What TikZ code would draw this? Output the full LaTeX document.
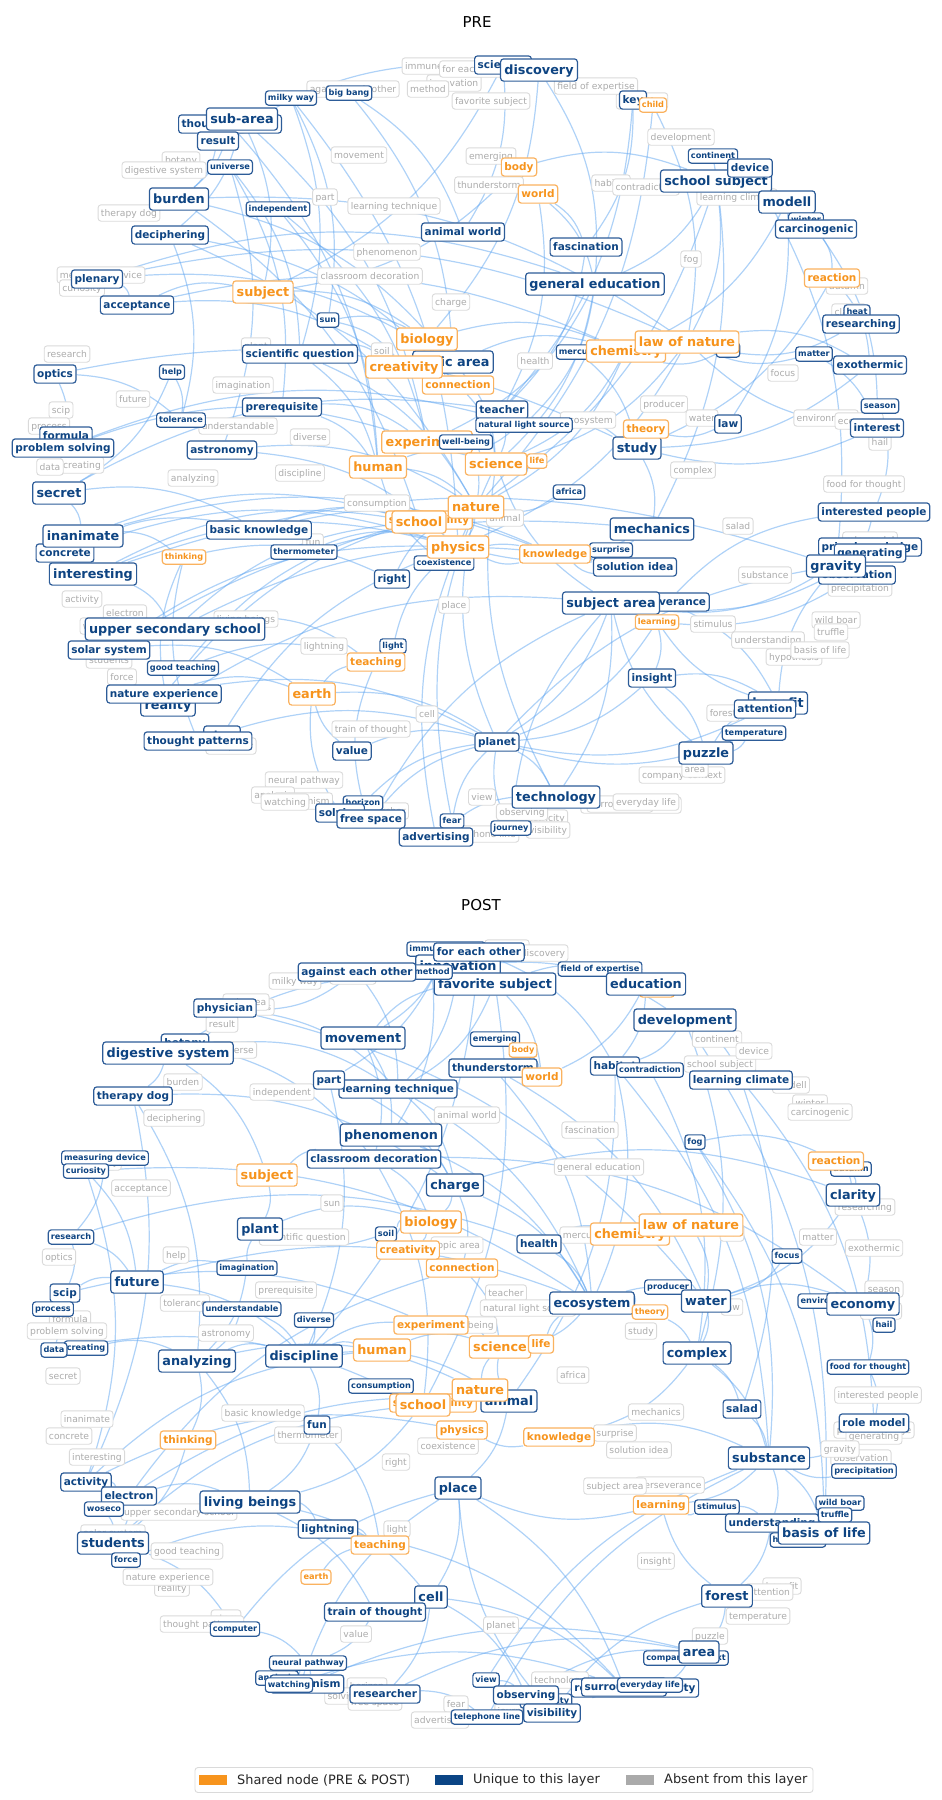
\documentclass[tikz,border=0pt]{standalone}
\usepackage{fontspec}
\setmainfont{DejaVu Sans}
\pgfdeclarelayer{background}
\pgfsetlayers{background,main}

\definecolor{uniqtext}{RGB}{14,68,130}
\definecolor{uniqline}{RGB}{45,92,152}
\definecolor{bothtext}{RGB}{247,148,29}
\definecolor{bothline}{RGB}{250,178,95}
\definecolor{gonetext}{RGB}{172,172,172}
\definecolor{goneline}{RGB}{218,218,218}
\definecolor{linkblue}{RGB}{95,165,240}
\definecolor{swatchblue}{RGB}{11,69,133}
\definecolor{swatchgray}{RGB}{170,170,170}

% nodes only in PRE: key/x/y/label/size
\def\onlypre{%
bbg/349/93/big bang/szs,
mil/291/98/milky way/szs,
thp/230/124/thought process/szm,
sub/242/119/sub-area/szl,
res/218/141/result/szm,
uni/230/167/universe/szs,
bur/179/199/burden/szl,
ind/278/209/independent/szs,
dec/170/235/deciphering/szm,
anw/463/232/animal world/szm,
ple/97/279/plenary/szm,
acc/137/305/acceptance/szm,
sun/328/320/sun/szs,
sci/503/65/scientist/szm,
dis/539/70/discovery/szl,
key/633/100/key/szm,
con/713/156/continent/szs,
ssu/716/181/school subject/szl,
dvc/750/168/device/szm,
mod/787/202/modell/szl,
win/806/220/winter/szs,
car/816/229/carcinogenic/szm,
fas/586/247/fascination/szm,
gen/595/284/general education/szl,
hea/857/312/heat/szs,
rsg/861/324/researching/szm,
opt/55/374/optics/szm,
hlp/172/372/help/szs,
sq/300/354/scientific question/szm,
top/453/362/topic area/szl,
pre/282/407/prerequisite/szm,
tol/181/420/tolerance/szs,
for/66/436/formula/szm,
pso/63/448/problem solving/szm,
ast/222/450/astronomy/szm,
sec/59/493/secret/szl,
bkn/259/530/basic knowledge/szm,
thm/304/552/thermometer/szs,
cnc/65/553/concrete/szm,
ina/83/536/inanimate/szl,
int/93/574/interesting/szl,
coe/444/563/coexistence/szs,
rig/392/579/right/szm,
mer/578/352/mercury/szs,
sta/728/350/star/szs,
mat/814/354/matter/szs,
exo/870/365/exothermic/szm,
tea/502/410/teacher/szm,
nls/524/425/natural light source/szs,
law/728/424/law/szm,
stu/637/448/study/szl,
sea/880/406/season/szs,
ite/877/428/interest/szm,
afr/569/492/africa/szs,
mec/652/529/mechanics/szl,
ipe/874/512/interested people/szm,
sur/611/550/surprise/szs,
sid/635/567/solution idea/szm,
pkn/870/547/prior knowledge/szm,
gnr/870/553/generating/szm,
obs/857/575/observation/szm,
gra/836/566/gravity/szl,
per/666/602/perseverance/szm,
sar/611/603/subject area/szl,
usc/175/629/upper secondary school/szl,
sol/109/650/solar system/szm,
lgt/393/646/light/szs,
gte/183/668/good teaching/szs,
rel/168/705/reality/szl,
nex/164/694/nature experience/szm,
ato/222/735/atom/szm,
tpa/198/741/thought patterns/szm,
val/352/751/value/szm,
hor/363/803/horizon/szs,
slv/340/813/solving/szm,
fsp/371/819/free space/szm,
fer/452/821/fear/szs,
adv/436/837/advertising/szm,
ins/652/678/insight/szm,
ben/778/703/benefit/szl,
att/765/709/attention/szm,
tmp/754/733/temperature/szs,
pln/497/742/planet/szm,
puz/706/753/puzzle/szl,
tec/556/797/technology/szl,
jou/511/828/journey/szs}

% nodes only in POST: key/x/y/label/size
\def\onlypost{%
imm/442/66/immune system/szs,
inn/454/83/innovation/szl,
fea/475/69/for each other/szm,
fav/491/101/favorite subject/szl,
met/428/89/method/szs,
aeo/353/89/against each other/szm,
phy/221/125/physician/szm,
bot/181/160/botany/szm,
dig/164/170/digestive system/szl,
mov/359/155/movement/szl,
eme/491/156/emerging/szs,
thd/129/213/therapy dog/szm,
ltq/394/206/learning technique/szm,
par/325/197/part/szm,
phe/387/252/phenomenon/szl,
cld/370/276/classroom decoration/szm,
mdv/101/275/measuring device/szs,
cur/82/288/curiosity/szs,
cha/451/302/charge/szl,
foe/596/86/field of expertise/szs,
dev/681/137/development/szl,
thu/489/185/thunderstorm/szm,
hab/611/183/habitat/szm,
ctr/646/187/contradiction/szs,
lcl/737/197/learning climate/szm,
fog/691/259/fog/szs,
aut/847/286/autumn/szs,
cla/849/312/clarity/szl,
rsh/67/354/research/szs,
soi/382/351/soil/szs,
pnt/256/346/plant/szl,
ima/243/385/imagination/szs,
fut/133/399/future/szl,
scp/61/410/scip/szm,
pro/49/426/process/szs,
und/238/426/understandable/szs,
div/310/437/diverse/szs,
crt/82/465/creating/szs,
dat/50/467/data/szs,
ana/193/478/analyzing/szl,
dsc/300/473/discipline/szl,
cns/377/503/consumption/szs,
fun/313/542/fun/szm,
act/82/599/activity/szm,
hlt/535/361/health/szm,
foc/783/373/focus/szs,
eco/588/420/ecosystem/szl,
prd/664/404/producer/szs,
wat/702/418/water/szl,
cpx/693/470/complex/szl,
env/826/418/environment/szs,
ecn/859/421/economy/szl,
hai/880/442/hail/szs,
ani/505/518/animal/szl,
fft/864/484/food for thought/szs,
sal/738/526/salad/szm,
rmo/870/540/role model/szm,
prc/860/588/precipitation/szs,
sst/765/575/substance/szl,
ele/125/613/electron/szm,
wos/100/626/woseco/szs,
lbe/246/619/living beings/szl,
pla/454/605/place/szl,
sts/109/660/students/szl,
lig/324/646/lightning/szm,
frc/122/677/force/szs,
cel/427/714/cell/szl,
tot/371/729/train of thought/szm,
cmp/231/746/computer/szs,
npw/304/780/neural pathway/szs,
anl/273/795/analysis/szs,
mcm/303/801/mechanism/szm,
wch/285/802/watching/szs,
rsr/381/811/researcher/szm,
stm/713/624/stimulus/szs,
wbo/836/620/wild boar/szs,
tru/831/632/truffle/szs,
ust/768/640/understanding/szm,
hyp/794/657/hypothesis/szs,
bol/820/650/basis of life/szl,
frs/723/713/forest/szl,
cco/682/775/company context/szs,
are/695/769/area/szl,
vie/482/797/view/szs,
elc/542/818/electricity/szs,
rco/631/805/research community/szm,
srd/620/804/surroundings/szm,
evl/646/802/everyday life/szs,
tel/483/834/telephone line/szs,
obv/522/812/observing/szm,
vis/548/830/visibility/szm}

% nodes in both layers: key/x/y/label/PRE size/POST size
\def\shared{%
sbj/263/292/subject/szl/szl,
bio/427/339/biology/szl/szl,
cnx/458/385/connection/szm/szm,
cre/404/367/creativity/szl/szm,
exp/427/442/experiment/szl/szm,
hum/378/467/human/szl/szl,
scn/496/464/science/szl/szl,
lif/537/461/life/szs/szm,
sus/429/520/sustainability/szm/szm,
nat/476/507/nature/szl/szl,
sch/419/522/school/szl/szl,
phs/458/547/physics/szl/szm,
thi/184/557/thinking/szs/szm,
kno/555/554/knowledge/szm/szm,
che/626/351/chemistry/szl/szl,
lon/687/342/law of nature/szl/szl,
the/646/429/theory/szm/szs,
rea/832/278/reaction/szm/szm,
bod/519/167/body/szm/szs,
wor/538/194/world/szm/szm,
chi/653/105/child/szs/szm,
tch/376/662/teaching/szm/szm,
ear/312/694/earth/szl/szs,
lrn/657/622/learning/szs/szm}

\def\preedges{%
mil/sun, mil/sq, bbg/anw, bbg/top, res/dis, res/bur, uni/sq, uni/pre, uni/ast,
sub/dec, sub/sbj, thp/bur, bur/top, bur/sch, ind/hum, ind/exp, dec/tol, dec/nat,
ple/gen, ple/acc, acc/cre, acc/sbj, sun/cre, sun/bio, sci/anw, sci/sbj, dis/gen,
dis/bio, key/fas, key/tea, chi/nat, chi/lon, bod/ssu, bod/sbj, wor/gen, wor/fas,
wor/tea, con/mec, ssu/gen, ssu/lon, dvc/gra, mod/law, mod/che, car/rea, car/ite,
fas/tea, gen/nls, gen/scn, rea/stu, rea/exo, hea/rsg, rsg/lon, opt/tol, opt/pso,
hlp/tol, hlp/sec, sq/hum, sq/nat, sq/cre, top/scn, top/che, pre/hum, pre/exp,
ast/phs, ast/nat, pso/exp, pso/for, sec/bkn, ina/thi, ina/sch, int/phs, cnc/bkn,
bkn/sch, bkn/kno, thm/phs, thi/rig, coe/kno, rig/nat, mer/stu, che/nat, che/scn,
lon/phs, lon/scn, lon/exo, mat/lon, mat/ite, tea/scn, nls/exp, nls/stu, law/the,
the/stu, sea/ipe, ite/stu, afr/nat, mec/phs, mec/kno, ipe/gra, sid/kno, sur/kno,
pkn/gra, gnr/sar, gra/sar, obs/lrn, sar/scn, sar/pln, sar/tec, per/ben, usc/tch,
usc/sch, sol/ear, sol/phs, gte/tch, nex/ear, nex/nat, rel/thi, ear/tch, ear/pln,
lgt/phs, lgt/tch, tpa/thi, ato/phs, val/ear, hor/pln, slv/ear, fsp/pln, fer/scn,
adv/tec, lrn/ins, lrn/pln, ins/puz, ins/pln, ben/lrn, ben/gra, att/pln, tmp/pln,
tmp/puz, pln/tec, pln/nat, puz/sar, jou/pln, hum/scn, exp/scn, nat/sch, nat/phs,
hum/nat, bio/che, cre/cnx, cnx/scn, wel/nat, sbj/bio, lif/scn, sus/sch, kno/phs,
coe/hum, stu/mec, int/usc, sec/ina, win/mod, sta/che,
ple/lon, opt/stu, pso/nls, sec/tea, int/gra, usc/sid, sol/mec, nex/pln, tpa/pln,
val/pln, fsp/sar, adv/nat, jou/sar, pln/gra, ins/ben, puz/ben, gen/exp, ssu/nat,
ple/top, bur/lon, dec/cnx, acc/che, sub/exp, thp/hum, mil/phs, int/sch, cnc/phs,
ina/kno, rel/sar, gte/sch, tec/scn, fer/pln, hor/tch, per/ipe, ite/lon, exo/stu}

\def\postedges{%
imm/mov, imm/par, fea/hab, fea/dsc, inn/ltq, inn/dev, fav/wor, fav/ltq, fav/sch,
aeo/ltq, aeo/phy, met/phe, phy/ltq, phy/dig, dig/thd, dig/sbj, dig/ltq, bot/cld,
mov/phe, mov/cld, eme/wor, thd/act, thd/ana, par/cha, par/dsc, ltq/eco, ltq/cha,
phe/cha, phe/eco, cld/bio, cld/sch, mdv/rsh, cur/act, cur/fut, cha/bio, cha/eco,
foe/edu, edu/wor, edu/hab, dev/hab, dev/lcl, dev/cpx, thu/wat, thu/eco, hab/ani,
hab/eco, ctr/cpx, lcl/sal, fog/rea, fog/sst, aut/cla, cla/ecn, cla/wat, rsh/fut,
rsh/scp, soi/pnt, soi/bio, ima/pnt, ima/ana, fut/dsc, fut/ima, scp/fut, scp/pro,
pro/dat, und/ana, und/dsc, div/dsc, dat/crt, crt/ana, ana/thi, ana/lbe, dsc/hum,
dsc/fun, cns/sch, fun/lbe, fun/tch, act/ele, hlt/eco, hlt/che, foc/wat, eco/wat,
eco/the, eco/scn, prd/wat, wat/cpx, wat/ecn, cpx/sal, cpx/sst, env/ecn, ecn/fft,
ecn/hai, ani/scn, ani/pla, fft/rmo, sal/sst, rmo/sst, prc/sst, sst/bol, sst/ust,
sst/lrn, ele/sts, ele/lbe, lbe/lig, lbe/tot, pla/cel, pla/srd, wos/sts, sts/frc,
sts/cmp, lig/tch, cel/tot, cel/rsr, cel/obv, tot/npw, cmp/npw, npw/anl, npw/wch,
npw/mcm, rsr/tel, stm/lrn, stm/ust, wbo/tru, tru/bol, ust/frs, ust/bol, hyp/bol,
frs/are, frs/lrn, are/cco, are/srd, vie/obv, evl/srd, rco/srd, obv/vis, obv/tel,
elc/vis, vis/pla, nat/scn, nat/sch, hum/scn, exp/scn, bio/cre, che/lon, cnx/scn,
kno/phs, lon/wat, ear/tch, thi/sts, sbj/pnt, bod/wor, chi/edu, lif/eco, sus/ani,
rea/cla, the/cpx, lrn/pla, mov/fav, sbj/cld, dsc/exp, ana/dsc, cha/cnx, pnt/bio,
kno/sst, ani/nat, sch/lbe, cpx/kno, fav/edu,
cur/eco, rsh/hlt, act/hum, sts/sch, ele/cnx, frc/tch, cmp/pla, npw/pla, rsr/are,
tel/sst, vis/frs, obv/are, ele/ani, lbe/cel, lig/srd, vie/sst, cel/srd, phy/wat,
dig/fav, thd/cha, fut/eco, ana/nat, dsc/ani, cld/ecn, cha/cla, hab/sst, lcl/rmo,
dev/bol, fog/bol, wch/srd, mcm/are, act/phs, scp/exp, dat/sch}

\begin{document}
\begin{tikzpicture}[x=1pt, y=-1pt,
    tagbox/.style={draw, fill=white, rounded corners=3pt, line width=1.2pt},
    uniqnode/.style={tagbox, draw=uniqline, text=uniqtext},
    pairnode/.style={tagbox, draw=bothline, text=bothtext},
    gonenode/.style={tagbox, draw=goneline, text=gonetext, line width=0.9pt,
      inner sep=2.9pt, text height=8.4pt, text depth=2.2pt,
      font=\fontsize{9.2}{11}\selectfont},
    szl/.style={inner sep=3.8pt, text height=11.6pt, text depth=3pt,
      font=\bfseries\fontsize{12.8}{15}\selectfont},
    szm/.style={inner sep=3.1pt, text height=9.5pt, text depth=2.5pt,
      font=\bfseries\fontsize{10.5}{12.5}\selectfont},
    szs/.style={inner sep=2.5pt, text height=7.4pt, text depth=1.9pt,
      font=\bfseries\fontsize{8.2}{10}\selectfont},
    linkline/.style={draw=linkblue, line width=1.2pt, opacity=.5, bend left=18},
    paneltitle/.style={font=\fontsize{15}{18}\selectfont},
    legtext/.style={anchor=west, inner sep=0pt, text=black!85,
      font=\fontsize{12.9}{15}\selectfont}]
  \useasboundingbox (0,0) rectangle (942,1800);

  % PRE
  \node[paneltitle] (pre-title) at (477,22) {PRE};
  \node[gonenode] (pre-edu) at (642,101) {education};
  \foreach \nm/\px/\py/\lab/\sz in \onlypost
    \node[gonenode] (pre-\nm) at (\px,\py) {\lab};
  \foreach \nm/\px/\py/\lab/\sz in \onlypre
    \node[uniqnode,\sz] (pre-\nm) at (\px,\py) {\lab};
  \foreach \nm/\px/\py/\lab/\sz/\szb in \shared
    \node[pairnode,\sz] (pre-\nm) at (\px,\py) {\lab};
  \node[uniqnode,szs] (pre-wel) at (466,442) {well-being};
  \begin{pgfonlayer}{background}
    \foreach \u/\v in \preedges
      \draw[linkline] (pre-\u) to (pre-\v);
  \end{pgfonlayer}

  % POST
  \begin{scope}[shift={(4,883)}]
    \node[paneltitle] (post-title) at (477,22) {POST};
    \node[gonenode] (post-wel) at (466,442) {well-being};
    \foreach \nm/\px/\py/\lab/\sz in \onlypre
      \node[gonenode] (post-\nm) at (\px,\py) {\lab};
    \foreach \nm/\px/\py/\lab/\sz in \onlypost
      \node[uniqnode,\sz] (post-\nm) at (\px,\py) {\lab};
    \foreach \nm/\px/\py/\lab/\sza/\sz in \shared
      \node[pairnode,\sz] (post-\nm) at (\px,\py) {\lab};
    \node[uniqnode,szl] (post-edu) at (642,101) {education};
    \begin{pgfonlayer}{background}
      \foreach \u/\v in \postedges
        \draw[linkline] (post-\u) to (post-\v);
    \end{pgfonlayer}
  \end{scope}

  % legend
  \node[draw=goneline, line width=0.9pt, rounded corners=3pt, inner sep=0pt,
    minimum width=618pt, minimum height=25pt] (legend) at (504,1780) {};
  \node[fill=bothtext, inner sep=0pt, minimum width=28pt, minimum height=10pt] (leg-both) at (213,1780) {};
  \node[legtext] (leg-both-text) at (237,1780) {Shared node (PRE \& POST)};
  \node[fill=swatchblue, inner sep=0pt, minimum width=28pt, minimum height=10pt] (leg-uniq) at (449,1780) {};
  \node[legtext] (leg-uniq-text) at (473,1780) {Unique to this layer};
  \node[fill=swatchgray, inner sep=0pt, minimum width=28pt, minimum height=10pt] (leg-gone) at (640,1780) {};
  \node[legtext] (leg-gone-text) at (664,1780) {Absent from this layer};
\end{tikzpicture}
\end{document}
